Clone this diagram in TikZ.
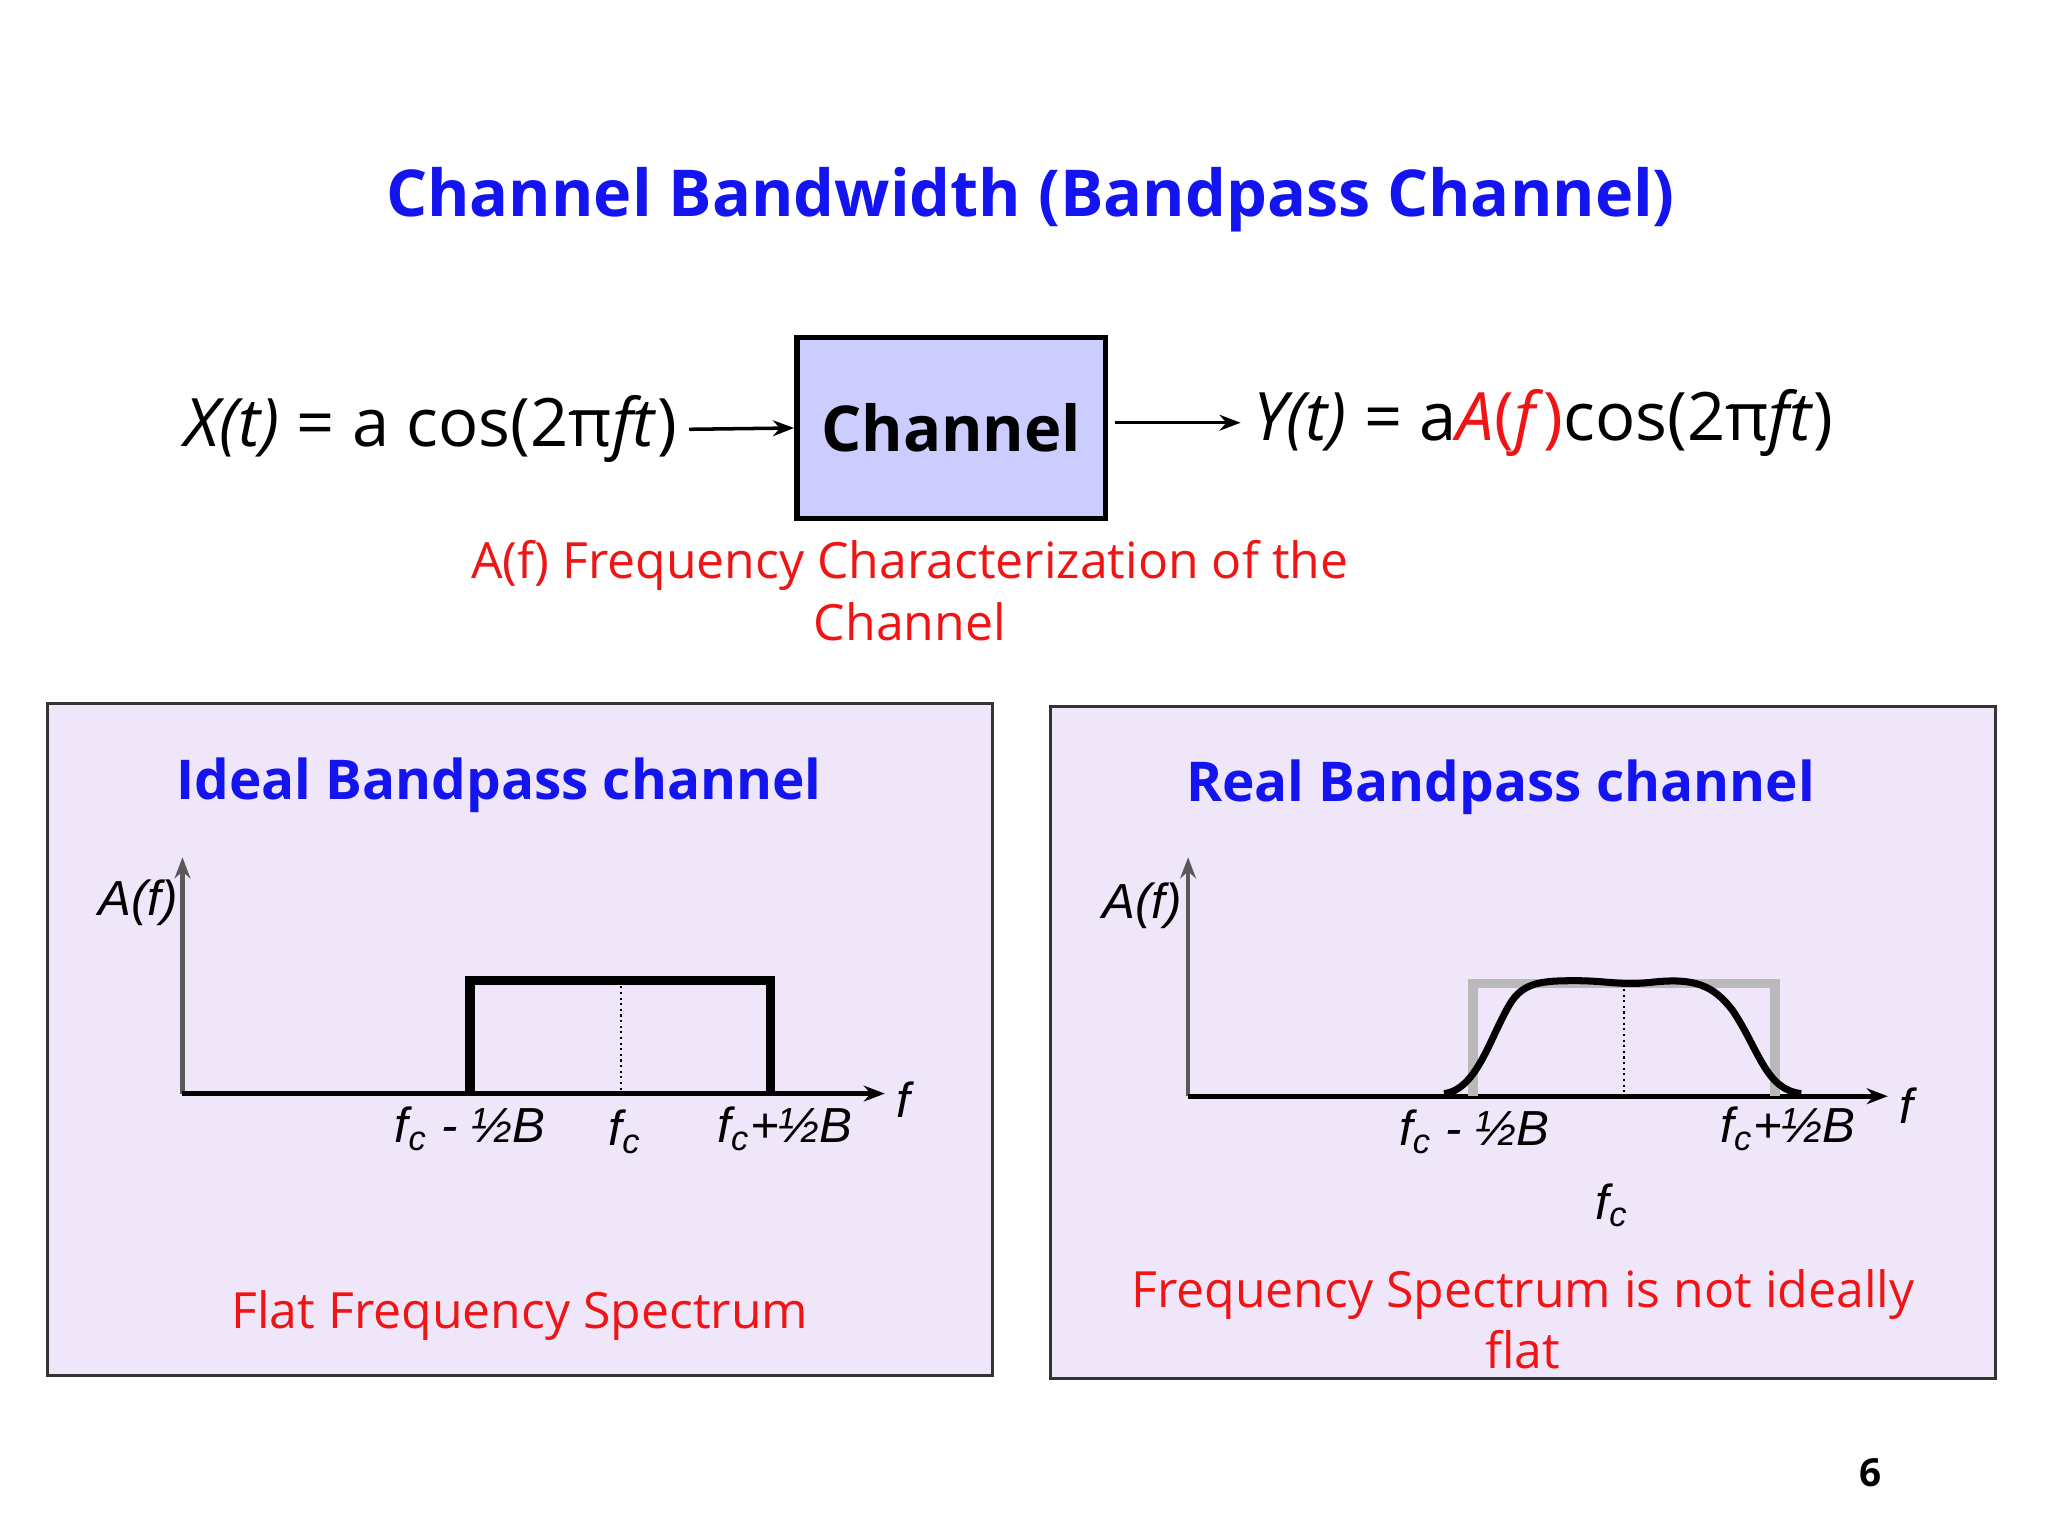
\documentclass[tikz,border=0pt]{standalone}
\usepackage{fontspec}
\setmainfont{Open Sans}
\newfontfamily\arialf{Liberation Sans}
\usetikzlibrary{arrows.meta}
\definecolor{tblue}{RGB}{20,20,240}
\definecolor{tred}{RGB}{240,20,20}
\definecolor{boxfill}{RGB}{204,204,255}
\definecolor{panel}{RGB}{240,230,250}
\tikzset{
 panelbox/.style={draw=black!80,fill=panel,line width=0.8pt},
 ptitle/.style={text=tblue,font=\fontsize{15.6}{19}\selectfont\bfseries},
 redtxt/.style={text=tred,font=\fontsize{14.2}{17.5}\selectfont,align=center},
 lab/.style={font=\arialf\itshape\fontsize{14}{16}\selectfont},
 eq/.style={font=\fontsize{19}{22}\selectfont},
 arr/.style={-{Stealth[length=6pt]},line width=1pt},
}
\begin{document}
\begin{tikzpicture}[x=0.01313cm,y=-0.01313cm]
\useasboundingbox[fill=white] (0,0) rectangle (1560,1170);
\node[text=tblue,font=\fontsize{18.4}{22}\selectfont\bfseries] (title) at (785,152) {Channel Bandwidth (Bandpass Channel)};
% channel block
\node[draw,line width=1.6pt,fill=boxfill,minimum width=235*0.01313cm,minimum height=138*0.01313cm,font=\fontsize{18}{22}\selectfont\bfseries] (ch) at (724.5,326) {Channel};
\node[eq,anchor=east] (x) at (525,327) {\textit{X(t)} = a cos(2π\textit{ft})};
\node[eq,anchor=west] (y) at (945,322) {\textit{Y(t)} = a\textcolor{tred}{\textit{A}(\textit{f})}cos(2π\textit{ft})};
\draw[arr] (x.east) -- (ch.west);
\draw[arr] (ch.east|-y.west) ++(5,0) coordinate (c1) (c1) -- (y.west);
\node[redtxt] (afc) at (693,450) {A(f) Frequency Characterization of the\\Channel};
% left panel
\draw[panelbox] (36,536) rectangle (756,1048);
\node[ptitle] (lt) at (380,598) {Ideal Bandpass channel};
\coordinate (lo) at (139,833);
\coordinate (ltop) at (139,653);
\coordinate (lr) at (674,833);
\draw[-{Stealth[length=6pt]},gray!70!black,line width=1.2pt] (lo) -- (ltop);
\draw[arr,line width=1.4pt] (lo) -- (lr);
\node[lab] (laf) at (105,688) {A(f)};
\node[lab] (lf) at (688,838) {f};
\draw[line width=2.6pt] (358,833) -- (358,747) -- (587,747) -- (587,833);
\draw[densely dotted,line width=0.6pt] (473,747) -- (473,833);
\node[lab] (l1) at (358,860) {f\textsubscript{c} - ½B};
\node[lab] (l2) at (476,862) {f\textsubscript{c}};
\node[lab] (l3) at (598,860) {f\textsubscript{c}+½B};
\node[redtxt] (lflat) at (396,1002) {Flat Frequency Spectrum};
% right panel
\draw[panelbox] (800,538) rectangle (1520,1050);
\node[ptitle] (rt) at (1143,600) {Real Bandpass channel};
\coordinate (ro) at (905,835);
\coordinate (rtop) at (905,653);
\coordinate (rr) at (1438,835);
\draw[-{Stealth[length=6pt]},gray!70!black,line width=1.2pt] (ro) -- (rtop);
\draw[arr,line width=1.4pt] (ro) -- (rr);
\node[lab] (raf) at (870,690) {A(f)};
\node[lab] (rf) at (1452,842) {f};
\draw[gray!55,line width=2.6pt] (1122,835) -- (1122,749) -- (1352,749) -- (1352,835);
\draw[line width=2pt] (1100,833) .. controls (1125,830) and (1135,790) .. (1150,765)
  .. controls (1160,748) and (1175,747) .. (1200,747)
  .. controls (1225,747) and (1235,751) .. (1260,748)
  .. controls (1290,745) and (1305,750) .. (1320,770)
  .. controls (1340,800) and (1345,830) .. (1372,833);
\draw[densely dotted,line width=0.6pt] (1237,749) -- (1237,835);
\node[lab] (r1) at (1123,862) {f\textsubscript{c} - ½B};
\node[lab] (r3) at (1362,860) {f\textsubscript{c}+½B};
\node[lab] (r2) at (1228,918) {f\textsubscript{c}};
\node[redtxt] (rflat) at (1160,1005) {Frequency Spectrum is not ideally\\flat};
\node[font=\fontsize{11}{13}\selectfont\bfseries] (pg) at (1425,1122) {6};
\end{tikzpicture}
\end{document}
